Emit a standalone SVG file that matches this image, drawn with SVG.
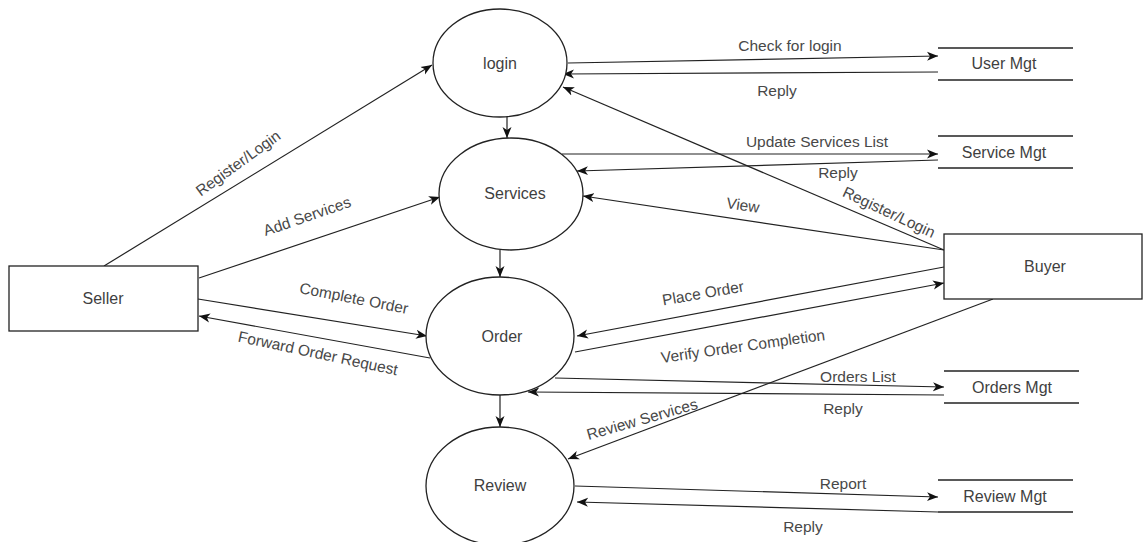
<svg xmlns="http://www.w3.org/2000/svg" width="1145" height="542" viewBox="0 0 1145 542">
  <style>
    .shape { fill: #ffffff; stroke: #222222; stroke-width: 1.3; }
    .store { stroke: #222222; stroke-width: 1.3; fill: none; }
    .flow { stroke: #222222; stroke-width: 1.2; fill: none; }
    .arrow { marker-end: url(#head); }
    text { font-family: "Liberation Sans", Arial, sans-serif; font-size: 16px; fill: #3f3f3f; text-anchor: middle; dominant-baseline: central; }
    .lbl { font-size: 15.5px; fill: #484848; }
  </style>
  <defs>
    <marker id="head" markerUnits="userSpaceOnUse" markerWidth="12" markerHeight="10" refX="11" refY="5" orient="auto">
      <path d="M0,0.5 L11,5 L0,9.5 L3,5 Z" fill="#111111"/>
    </marker>
  </defs>

  <rect width="1145" height="542" fill="#ffffff"/>

  <!-- flows -->
  <g id="connectors">
    <line class="flow arrow" x1="104" y1="266" x2="432" y2="65"/>
    <line class="flow arrow" x1="199" y1="278" x2="440" y2="197"/>
    <line class="flow arrow" x1="198" y1="299" x2="427" y2="336"/>
    <line class="flow arrow" x1="430" y1="358" x2="199" y2="316"/>

    <line class="flow arrow" x1="568" y1="63" x2="938" y2="56"/>
    <line class="flow arrow" x1="938" y1="72" x2="563" y2="74"/>
    <line class="flow arrow" x1="944" y1="250" x2="563" y2="87"/>

    <line class="flow arrow" x1="562" y1="154" x2="938" y2="154"/>
    <line class="flow arrow" x1="938" y1="160" x2="577" y2="171"/>
    <line class="flow arrow" x1="944" y1="250" x2="583" y2="196"/>

    <line class="flow arrow" x1="944" y1="267" x2="577" y2="336"/>
    <line class="flow arrow" x1="575" y1="352" x2="944" y2="283"/>
    <line class="flow arrow" x1="555" y1="378" x2="944" y2="387"/>
    <line class="flow arrow" x1="944" y1="395" x2="528" y2="392"/>

    <line class="flow arrow" x1="993" y1="299" x2="568" y2="459"/>
    <line class="flow arrow" x1="575" y1="486" x2="938" y2="497"/>
    <line class="flow arrow" x1="938" y1="512" x2="577" y2="502"/>

    <line class="flow arrow" x1="507" y1="117" x2="507" y2="138"/>
    <line class="flow arrow" x1="500" y1="250" x2="500" y2="277"/>
    <line class="flow arrow" x1="500" y1="395" x2="500" y2="427"/>

    <!-- flow labels -->
    <text class="lbl" transform="translate(238,163) rotate(-36)">Register/Login</text>
    <text class="lbl" transform="translate(307,216) rotate(-19)">Add Services</text>
    <text class="lbl" transform="translate(354,298) rotate(11)">Complete Order</text>
    <text class="lbl" transform="translate(318,353) rotate(12)">Forward Order Request</text>

    <text class="lbl" x="790" y="45">Check for login</text>
    <text class="lbl" x="777" y="90">Reply</text>
    <text class="lbl" transform="translate(889,212) rotate(25)">Register/Login</text>

    <text class="lbl" x="817" y="141">Update Services List</text>
    <text class="lbl" x="838" y="172">Reply</text>
    <text class="lbl" transform="translate(743,205) rotate(8.5)">View</text>

    <text class="lbl" transform="translate(703,293) rotate(-10)">Place Order</text>
    <text class="lbl" transform="translate(743,346) rotate(-8)">Verify Order Completion</text>
    <text class="lbl" x="858" y="376">Orders List</text>
    <text class="lbl" x="843" y="408">Reply</text>

    <text class="lbl" transform="translate(642,419) rotate(-16)">Review Services</text>
    <text class="lbl" x="843" y="483">Report</text>
    <text class="lbl" x="803" y="526">Reply</text>
  </g>

  <!-- external entities -->
  <g id="seller">
    <rect class="shape" x="9" y="266" width="189" height="65"/>
    <text x="103" y="298">Seller</text>
  </g>
  <g id="buyer">
    <rect class="shape" x="944" y="234" width="198" height="65"/>
    <text x="1045" y="266">Buyer</text>
  </g>

  <!-- processes -->
  <g id="login">
    <ellipse class="shape" cx="500" cy="63" rx="67" ry="54"/>
    <text x="500" y="63">login</text>
  </g>
  <g id="services">
    <ellipse class="shape" cx="511" cy="194" rx="72" ry="56"/>
    <text x="515" y="193">Services</text>
  </g>
  <g id="order">
    <ellipse class="shape" cx="500" cy="336" rx="74" ry="59"/>
    <text x="502" y="336">Order</text>
  </g>
  <g id="review">
    <ellipse class="shape" cx="500" cy="486" rx="74" ry="59"/>
    <text x="500" y="485">Review</text>
  </g>

  <!-- data stores -->
  <g id="user-mgt">
    <line class="store" x1="938" y1="48" x2="1073" y2="48"/>
    <line class="store" x1="938" y1="80" x2="1073" y2="80"/>
    <text x="1004" y="63">User Mgt</text>
  </g>
  <g id="service-mgt">
    <line class="store" x1="938" y1="136" x2="1073" y2="136"/>
    <line class="store" x1="938" y1="168" x2="1073" y2="168"/>
    <text x="1004" y="152">Service Mgt</text>
  </g>
  <g id="orders-mgt">
    <line class="store" x1="944" y1="371" x2="1079" y2="371"/>
    <line class="store" x1="944" y1="403" x2="1079" y2="403"/>
    <text x="1012" y="387">Orders Mgt</text>
  </g>
  <g id="review-mgt">
    <line class="store" x1="938" y1="480" x2="1073" y2="480"/>
    <line class="store" x1="938" y1="512" x2="1073" y2="512"/>
    <text x="1005" y="496">Review Mgt</text>
  </g>
</svg>
